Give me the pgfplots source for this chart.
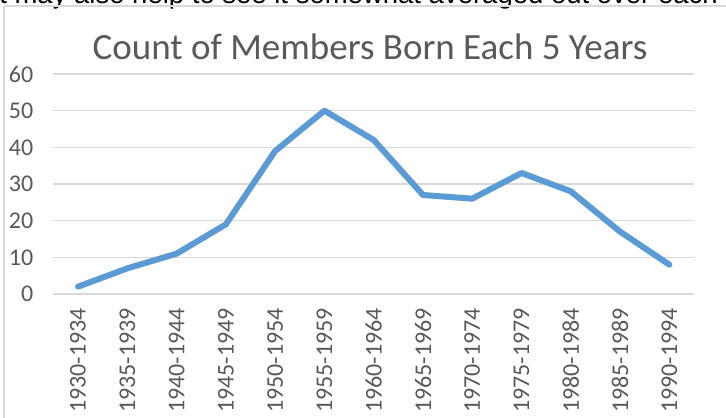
\documentclass[border=0pt]{standalone}
\usepackage{pgfplots}
\pgfplotsset{compat=1.18}
\usepackage{fontspec}
\setmainfont{Carlito}
\newfontfamily\arialfont{Liberation Sans}
\definecolor{xlblue}{HTML}{5B9BD5}
\definecolor{gridgray}{HTML}{D9D9D9}
\definecolor{txtgray}{HTML}{595959}
\pgfplotstableread{
x y
0 2
1 7
2 11
3 19
4 39
5 50
6 42
7 27
8 26
9 33
10 28
11 17
12 8
}\datatable
\begin{document}
\begin{tikzpicture}[x=1bp,y=1bp]
\useasboundingbox (0,0) rectangle (726,417);
\clip (0,0) rectangle (726,417);
\fill[white] (0,0) rectangle (726,417);
\node[anchor=base west, inner sep=0, font=\arialfont\fontsize{27.5bp}{31bp}\selectfont] at (-7,413) {it may also help to see it somewhat averaged out over each 5 years:};
\draw[gridgray, line width=1.3bp] (4,411) -- (760,411);
\draw[gridgray, line width=1.3bp] (4,411) -- (4,-20);
\node[anchor=base, inner sep=0, text=txtgray, font=\fontsize{37bp}{42bp}\selectfont] at (370,358) {Count of Members Born Each 5 Years};
\begin{axis}[
  at={(53.4bp,123bp)}, anchor=south west,
  scale only axis, width=640.6bp, height=220bp,
  xmin=-0.5, xmax=12.5, ymin=0, ymax=60,
  xtick={0,...,12},
  xticklabels={1930-1934,1935-1939,1940-1944,1945-1949,1950-1954,1955-1959,1960-1964,1965-1969,1970-1974,1975-1979,1980-1984,1985-1989,1990-1994},
  ytick={0,10,...,60},
  axis line style={draw=none},
  axis x line*=bottom,
  ymajorgrids, grid style={gridgray, line width=1.3bp},
  major tick length=0pt,
  tick style={draw=none},
  yticklabel style={anchor=east, inner sep=0, xshift=-20bp, text=txtgray, font=\fontsize{24bp}{28bp}\selectfont},
  xticklabel style={rotate=90, anchor=east, inner sep=0, xshift=-14bp, text=txtgray, font=\fontsize{24bp}{28bp}\selectfont},
  /pgf/number format/assume math mode=true,
  clip=false,
]
\addplot[xlblue, line width=6bp, line join=round, line cap=round] table[x=x,y=y] {\datatable};
\end{axis}
\end{tikzpicture}
\end{document}
